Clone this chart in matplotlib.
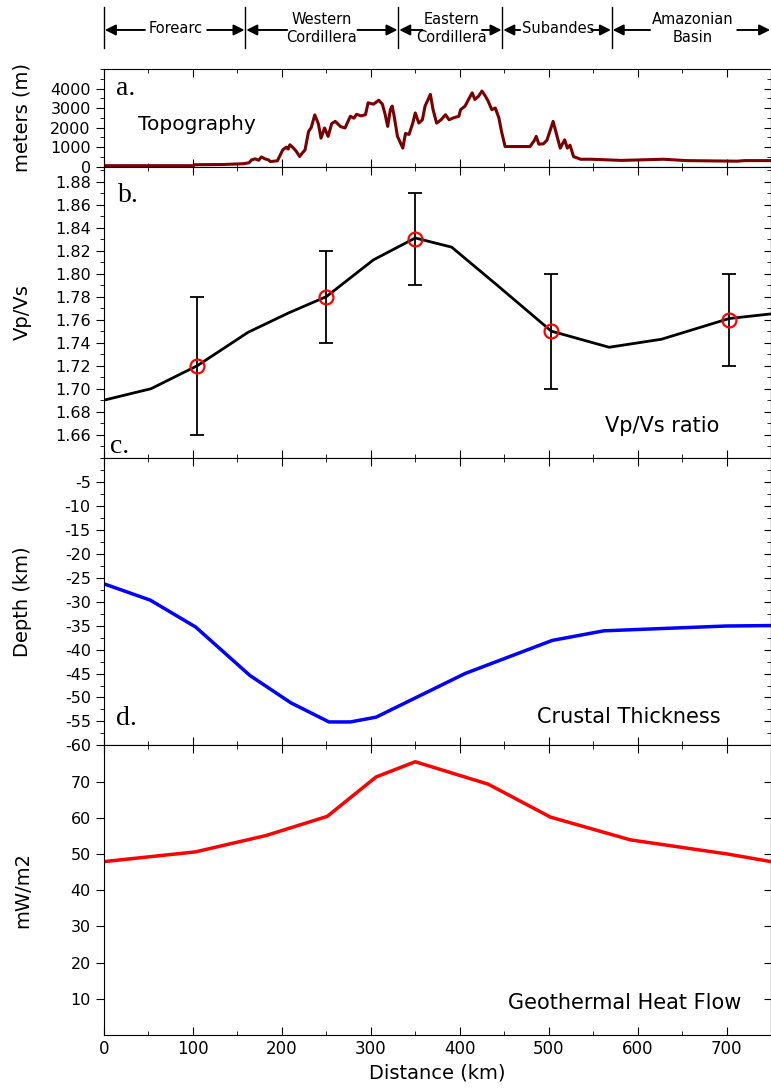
import numpy as np
import matplotlib.pyplot as plt
from matplotlib.ticker import MultipleLocator, FixedLocator

plt.rcParams['axes.unicode_minus'] = False

# ---- data ----
topo_km = [0, 101, 102, 134, 157, 163, 166, 170, 174, 177, 181, 185, 187, 195, 201, 205, 207, 209,
           212, 216, 220, 223, 226, 230, 233, 237, 241, 244, 248, 252, 256, 260, 266, 271, 277, 281,
           284, 289, 294, 297, 303, 309, 313, 316, 319, 322, 324, 326, 330, 336, 339, 343, 347, 350,
           354, 358, 361, 365, 367, 370, 374, 379, 384, 388, 393, 399, 401, 406, 410, 414, 417, 421,
           425, 429, 432, 436, 440, 444, 447, 451, 479, 484, 486, 489, 494, 498, 502, 505, 509, 513,
           518, 521, 524, 528, 536, 547, 582, 629, 655, 712, 720, 750]
topo_m = [50, 50, 100, 110, 150, 200, 345, 400, 330, 500, 400, 345, 260, 300, 860, 1000, 900, 1120,
          1000, 800, 520, 700, 850, 1800, 2000, 2650, 2200, 1460, 1980, 1550, 2200, 2320, 2050, 1980,
          2580, 2480, 2680, 2600, 2660, 3270, 3200, 3400, 3200, 2700, 2060, 2920, 3100, 2650, 1550,
          950, 1700, 1650, 2200, 2750, 2230, 2400, 3100, 3500, 3700, 2920, 2230, 2400, 2660, 2400,
          2500, 2580, 2920, 3100, 3450, 3780, 3440, 3600, 3870, 3600, 3350, 2920, 3000, 2500, 1800,
          1030, 1030, 1350, 1550, 1150, 1170, 1350, 1900, 2320, 1630, 950, 1375, 950, 1100, 515,
          380, 380, 320, 380, 310, 280, 310, 310]

vpvs_km = [0, 53, 105, 162, 208, 250, 303, 350, 391, 442, 503, 568, 627, 703, 750]
vpvs = [1.690, 1.700, 1.720, 1.749, 1.766, 1.780, 1.812, 1.831, 1.823, 1.790, 1.750, 1.736,
        1.743, 1.761, 1.765]
obs_km = [105, 250, 350, 503, 703]
obs_vpvs = [1.72, 1.78, 1.83, 1.75, 1.76]
obs_lo = [1.66, 1.74, 1.79, 1.70, 1.72]
obs_hi = [1.78, 1.82, 1.87, 1.80, 1.80]

crust_km = [0, 52, 103, 164, 210, 253, 277, 306, 406, 504, 562, 699, 750]
crust_depth = [-26.3, -29.7, -35.3, -45.4, -51.1, -55.1, -55.1, -54.1, -45.0, -38.1, -36.1, -35.1, -35.0]

heat_km = [0, 103, 182, 251, 306, 350, 432, 502, 592, 701, 750]
heat_flow = [47.9, 50.6, 55.1, 60.4, 71.3, 75.5, 69.3, 60.2, 53.9, 50.0, 47.9]

regions = ['Forearc', 'Western\nCordillera', 'Eastern\nCordillera', 'Subandes', 'Amazonian\nBasin']
region_bounds = [0, 159, 331, 448, 571, 750]
region_text_km = [81, 245, 391, 511, 662]
# where the arrows leave the label (left, right)
arrow_starts = [(46, 116), (206, 285), (358, 425), (468, 548), (614, 712)]

fig = plt.figure(figsize=(7.71, 10.90), dpi=100)
L, W = 104 / 771, 1 - 104 / 771
ax_a = fig.add_axes([L, 0.8471, W, 0.0896])
ax_b = fig.add_axes([L, 0.5801, W, 0.2670])
ax_c = fig.add_axes([L, 0.3161, W, 0.2640])
ax_d = fig.add_axes([L, 0.0505, W, 0.2656])
hdr = fig.add_axes([L, 0.945, W, 0.055])

for ax in (ax_a, ax_b, ax_c, ax_d):
    ax.set_xlim(0, 750)
    ax.xaxis.set_major_locator(MultipleLocator(100))
    ax.xaxis.set_minor_locator(MultipleLocator(50))
    ax.tick_params(axis='x', which='both', direction='in', top=True, bottom=True, labelbottom=False)
    ax.tick_params(axis='x', which='major', length=6)
    ax.tick_params(axis='x', which='minor', length=3)
    ax.tick_params(axis='y', which='both', direction='out')
    ax.tick_params(axis='y', which='major', length=6, labelsize=11.5)
    ax.tick_params(axis='y', which='minor', length=3)
    ax.yaxis.set_label_coords(-0.108, 0.5)

# a. topography
ax_a.plot(topo_km, topo_m, color='#7a0000', lw=2.2)
ax_a.set_ylim(0, 5000)
ax_a.set_yticks([0, 1000, 2000, 3000, 4000])
ax_a.yaxis.set_minor_locator(MultipleLocator(500))
ax_a.set_ylabel('meters (m)', fontsize=14)
ax_a.text(0.051, 0.43, 'Topography', transform=ax_a.transAxes, fontsize=14.5, va='center')
ax_a.text(0.018, 0.80, 'a.', transform=ax_a.transAxes, fontsize=20, family='Liberation Serif', va='center')

# b. Vp/Vs
ax_b.plot(vpvs_km, vpvs, color='black', lw=2)
ax_b.errorbar(obs_km, obs_vpvs,
              yerr=[np.subtract(obs_vpvs, obs_lo), np.subtract(obs_hi, obs_vpvs)],
              fmt='none', ecolor='black', elinewidth=1.3, capsize=5, capthick=1.3)
ax_b.plot(obs_km, obs_vpvs, 'o', ms=10, mfc='none', mec='red', mew=1.6)
ax_b.set_ylim(1.64, 1.893)
ax_b.set_yticks(np.arange(1.66, 1.8801, 0.02))
ax_b.yaxis.set_minor_locator(MultipleLocator(0.01))
ax_b.set_ylabel('Vp/Vs', fontsize=14)
ax_b.text(0.751, 0.11, 'Vp/Vs ratio', transform=ax_b.transAxes, fontsize=15, va='center')
ax_b.text(0.021, 0.90, 'b.', transform=ax_b.transAxes, fontsize=20, family='Liberation Serif', va='center')
ax_b.text(0.009, 0.04, 'c.', transform=ax_b.transAxes, fontsize=20, family='Liberation Serif', va='center')

# c. crustal thickness
ax_c.plot(crust_km, crust_depth, color='#0000ff', lw=2.5)
ax_c.set_ylim(-60, 0)
ax_c.set_yticks(np.arange(-60, -4, 5))
ax_c.yaxis.set_minor_locator(MultipleLocator(2.5))
ax_c.set_ylabel('Depth (km)', fontsize=14)
ax_c.text(0.649, 0.10, 'Crustal Thickness', transform=ax_c.transAxes, fontsize=15, va='center')
ax_c.text(0.018, 0.095, 'd.', transform=ax_c.transAxes, fontsize=20, family='Liberation Serif', va='center')

# d. heat flow
ax_d.plot(heat_km, heat_flow, color='#ff0000', lw=2.5)
ax_d.set_ylim(0, 80)
ax_d.set_yticks(np.arange(10, 71, 10))
ax_d.set_ylabel('mW/m2', fontsize=14)
ax_d.tick_params(axis='x', labelbottom=True, labelsize=12)
ax_d.set_xlabel('Distance (km)', fontsize=14)
ax_d.text(0.606, 0.11, 'Geothermal Heat Flow', transform=ax_d.transAxes, fontsize=15, va='center')

# inward ticks on the right edge, same positions as the left ones
for ax in (ax_a, ax_b, ax_c, ax_d):
    sec = ax.secondary_yaxis('right')
    sec.yaxis.set_major_locator(FixedLocator(ax.get_yticks()))
    sec.yaxis.set_minor_locator(ax.yaxis.get_minor_locator())
    sec.tick_params(which='both', direction='in', labelright=False)
    sec.tick_params(which='major', length=5)
    sec.tick_params(which='minor', length=3)

# header with region arrows
hdr.set_xlim(0, 750)
hdr.set_ylim(0, 1)
hdr.axis('off')
for b in region_bounds[:-1]:
    hdr.plot([b, b], [0.2, 0.88], color='black', lw=1, clip_on=False)
arrow_kw = dict(arrowstyle='-|>', color='black', lw=1.4, mutation_scale=16, shrinkA=0, shrinkB=0)
for i, name in enumerate(regions):
    hdr.text(region_text_km[i], 0.53, name, ha='center', va='center', fontsize=10.5, linespacing=1.25)
    x0, x1 = arrow_starts[i]
    hdr.annotate('', xy=(region_bounds[i] + 1, 0.5), xytext=(x0, 0.5), arrowprops=arrow_kw,
                 annotation_clip=False)
    hdr.annotate('', xy=(region_bounds[i + 1] - 1, 0.5), xytext=(x1, 0.5), arrowprops=arrow_kw,
                 annotation_clip=False)

fig.savefig('out.png', dpi=100)
